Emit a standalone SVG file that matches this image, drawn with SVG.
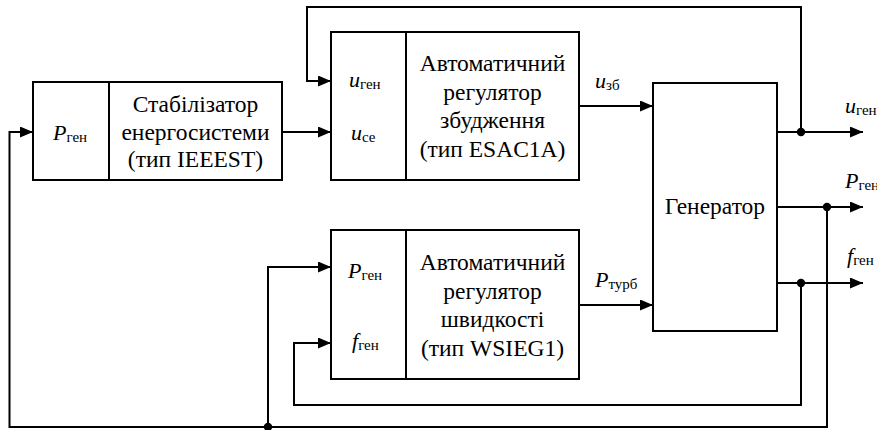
<svg xmlns="http://www.w3.org/2000/svg" width="877" height="430" viewBox="0 0 877 430">
<style>
.box{fill:#fff;stroke:#000;stroke-width:2}
.ln{fill:none;stroke:#000;stroke-width:2}
text{font-family:'Liberation Serif','Times New Roman','DejaVu Serif',serif;font-size:22px;fill:#000}
.t{text-anchor:middle;font-size:23.5px}
.v{font-style:italic}
.s{font-size:15px;font-style:normal}
</style>
<defs>
<marker id="ar" viewBox="0 0 13 11" refX="13" refY="5.5" markerWidth="13" markerHeight="11" markerUnits="userSpaceOnUse" orient="auto">
<path d="M0,0 L13,5.5 L0,11 z" fill="#000"/>
</marker>
</defs>
<rect width="877" height="430" fill="#fff"/>
<g id="connectors">
<path class="ln" d="M282,132 H331" marker-end="url(#ar)"/>
<path class="ln" d="M801,132 V7 H307 V81 H331" marker-end="url(#ar)"/>
<path class="ln" d="M827,207 V427 H9.5 V132 H33" marker-end="url(#ar)"/>
<path class="ln" d="M268,427 V267 H331" marker-end="url(#ar)"/>
<path class="ln" d="M801,283 V405 H294 V343 H331" marker-end="url(#ar)"/>
<path class="ln" d="M579,106 H653" marker-end="url(#ar)"/>
<path class="ln" d="M579,305 H653" marker-end="url(#ar)"/>
<path class="ln" d="M777,132 H863" marker-end="url(#ar)"/>
<path class="ln" d="M777,207 H863" marker-end="url(#ar)"/>
<path class="ln" d="M777,283 H863" marker-end="url(#ar)"/>
<circle cx="801" cy="132" r="4.2"/>
<circle cx="827" cy="207" r="4.2"/>
<circle cx="801" cy="283" r="4.2"/>
<circle cx="268" cy="427" r="4.2"/>
<text class="v" x="595" y="88">u<tspan class="s" dy="2">зб</tspan></text>
<text class="v" x="595" y="287">P<tspan class="s" dy="2">турб</tspan></text>
<text class="v" x="845" y="113">u<tspan class="s" dy="2">ген</tspan></text>
<text class="v" x="845" y="188">P<tspan class="s" dy="2">ген</tspan></text>
<text class="v" x="847" y="263">f<tspan class="s" dy="2">ген</tspan></text>
</g>
<g id="stabilizer">
<rect class="box" x="33" y="82" width="249" height="98"/>
<line class="ln" x1="109" y1="82" x2="109" y2="180"/>
<text class="v" x="53" y="140">P<tspan class="s" dy="2">ген</tspan></text>
<text class="t" x="195.5" y="112">Стабілізатор</text>
<text class="t" x="195.5" y="140">енергосистеми</text>
<text class="t" x="195.5" y="167">(тип IEEEST)</text>
</g>
<g id="excitation">
<rect class="box" x="331" y="32" width="248" height="148"/>
<line class="ln" x1="406" y1="32" x2="406" y2="180"/>
<text class="v" x="349" y="87">u<tspan class="s" dy="2">ген</tspan></text>
<text class="v" x="351" y="140">u<tspan class="s" dy="2">се</tspan></text>
<text class="t" x="492.5" y="71">Автоматичний</text>
<text class="t" x="492.5" y="99.5">регулятор</text>
<text class="t" x="492.5" y="128">збудження</text>
<text class="t" x="492.5" y="156.5">(тип ESAC1A)</text>
</g>
<g id="speed">
<rect class="box" x="331" y="230" width="248" height="149"/>
<line class="ln" x1="406" y1="230" x2="406" y2="379"/>
<text class="v" x="348" y="278">P<tspan class="s" dy="2">ген</tspan></text>
<text class="v" x="352" y="348">f<tspan class="s" dy="2">ген</tspan></text>
<text class="t" x="492.5" y="270">Автоматичний</text>
<text class="t" x="492.5" y="298.5">регулятор</text>
<text class="t" x="492.5" y="327">швидкості</text>
<text class="t" x="492.5" y="355.5">(тип WSIEG1)</text>
</g>
<g id="generator">
<rect class="box" x="653" y="83" width="124" height="248"/>
<text class="t" x="715" y="214">Генератор</text>
</g>
</svg>
